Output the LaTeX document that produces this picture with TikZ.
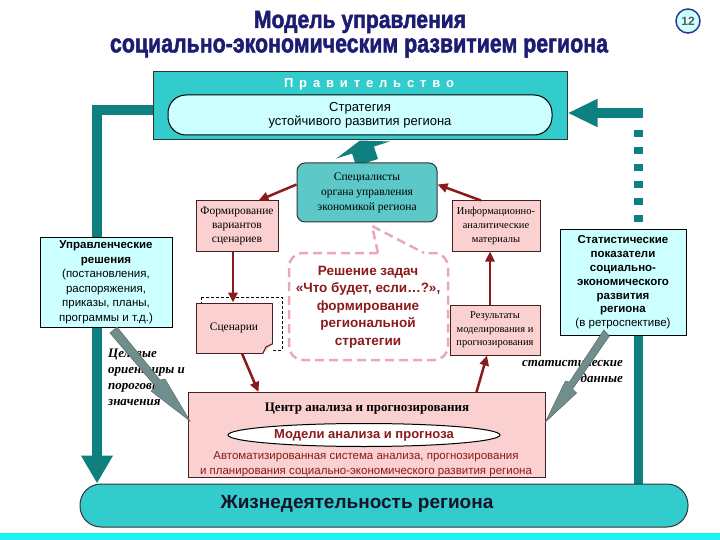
\documentclass[tikz,border=0pt]{standalone}
\usepackage{fontspec}
\setmainfont{Liberation Sans}
\newfontfamily\serifcyr{Liberation Serif}
\newfontfamily\titlefont{Liberation Sans}[BoldFeatures={FakeBold=2}]
\usetikzlibrary{arrows.meta,shapes.geometric}
\pgfdeclarelayer{bg}
\pgfsetlayers{bg,main}
\definecolor{tealdk}{HTML}{0F8080}
\definecolor{turq}{HTML}{33CCCC}
\definecolor{turqb}{HTML}{5CC8C8}
\definecolor{lcyan}{HTML}{CCFFFF}
\definecolor{pinkf}{HTML}{FBD0D0}
\definecolor{dred}{HTML}{8B1A1A}
\definecolor{navyt}{HTML}{1C1C72}
\definecolor{dpink}{HTML}{EBA8B8}
\definecolor{bandc}{HTML}{1CF2F2}
\definecolor{bolt}{HTML}{6F8E8E}
\definecolor{boxline}{HTML}{462020}
\tikzset{
 pinkbox/.style={draw=boxline, line width=1, fill=pinkf, align=center, inner sep=1, font=\serifcyr\fontsize{11.5}{14}\selectfont},
 cyanbox/.style={draw=black, line width=1, fill=lcyan, align=center, inner sep=1},
 redarrow/.style={draw=dred, line width=2.5, -{Triangle[length=10,width=9]}},
 tealline/.style={draw=tealdk, line width=10},
 boltshape/.style={fill=bolt, draw=black!60, line width=0.5},
 italabel/.style={font=\serifcyr\bfseries\itshape\fontsize{13}{16}\selectfont, inner sep=0},
}
\begin{document}
\begin{tikzpicture}[x=1pt,y=-1pt]
\useasboundingbox (0,0) rectangle (720,540);
\fill[bandc] (0,533) rectangle (720,540);

% title
\node[text=navyt, inner sep=0] (t1) at (360,22) {\resizebox{212pt}{17pt}{\titlefont\bfseries Модель управления}};
\node[text=navyt, inner sep=0] (t2) at (359,48) {\resizebox{498pt}{14pt}{\titlefont\bfseries социально-экономическим развитием региона}};
\node[circle, draw={rgb,255:red,40;green,60;blue,140}, line width=1.5, fill=lcyan, minimum size=24, inner sep=0, text=gray!70!black, font=\bfseries\fontsize{12}{12}\selectfont] (num) at (688,21) {12};

% government
\node[draw=black!80, line width=1, fill=turq, minimum width=414, minimum height=68, inner sep=0] (gov) at (360,106) {};
\node[text=white, inner sep=0, font=\bfseries\fontsize{13}{15}\selectfont\addfontfeature{LetterSpace=45}] (govt) at (369,84) {Правительство};
\node[draw=black, line width=1, fill=lcyan, rounded corners=18, minimum width=384, minimum height=40, inner sep=0, align=center, font=\fontsize{13}{14}\selectfont] (strat) at (360,115) {Стратегия\\устойчивого развития региона};

% specialists
\node[draw=black!80, line width=1, fill=turqb, rounded corners=8, minimum width=140, minimum height=59, inner sep=0, align=center, font=\serifcyr\fontsize{11.5}{15}\selectfont] (spec) at (367,192.5) {Специалисты\\органа управления\\экономикой региона};

% pink boxes
\node[pinkbox, minimum width=82, minimum height=50] (form) at (237,226) {Формирование\\вариантов\\сценариев};
\node[pinkbox, minimum width=88, minimum height=50, font=\serifcyr\fontsize{10.5}{14}\selectfont] (info) at (496,226) {Информационно-\\аналитические\\материалы};
\draw[line width=0.8, dash pattern=on 3 off 2] (201,297) rectangle (282,350);
\node[pinkbox, minimum width=76, minimum height=50] (scen) at (234,328) {Сценарии};
\fill[white] (263,354) -- (273,344) -- (273,354) -- cycle;
\draw[line width=1, boxline] (263,353) -- (266,347) -- (272,344);
\node[pinkbox, minimum width=90, minimum height=50, font=\serifcyr\fontsize{10.5}{13.5}\selectfont] (res) at (495,330) {Результаты\\моделирования и\\прогнозирования};

% side boxes
\node[cyanbox, minimum width=132, minimum height=90, font=\fontsize{11.5}{14.5}\selectfont] (dec) at (106,282) {\textbf{Управленческие}\\\textbf{решения}\\(постановления,\\распоряжения,\\приказы, планы,\\программы и т.д.)};
\node[cyanbox, minimum width=126, minimum height=105, font=\fontsize{11.5}{13.8}\selectfont] (stats) at (623,282.5) {\textbf{Статистические}\\\textbf{показатели}\\\textbf{социально-}\\\textbf{экономического}\\\textbf{развития}\\\textbf{региона}\\(в ретроспективе)};

% callout
\coordinate (ctip) at (372,226);
\draw[dpink, line width=2.5, dash pattern=on 9 off 5, rounded corners=14] (378,253) -- (289,253) -- (289,360) -- (448,360) -- (448,253) -- (424,253);
\draw[dpink, line width=2.5, dash pattern=on 9 off 5] (378,253) -- (ctip) -- (424,253);
\node[text=dred, align=center, font=\bfseries\fontsize{13.5}{17.5}\selectfont] (task) at (368,307) {Решение задач\\«Что будет, если…?»,\\формирование\\региональной\\стратегии};

% center
\node[pinkbox, minimum width=357, minimum height=85] (cent) at (366.5,435) {};
\node[inner sep=0, font=\serifcyr\bfseries\fontsize{13}{14}\selectfont] (centt) at (367,409) {Центр анализа и прогнозирования};
\node[ellipse, draw=black, line width=1, fill=white, minimum width=272, minimum height=23, inner sep=0, text=dred, font=\bfseries\fontsize{13}{14}\selectfont] (models) at (364,435) {Модели анализа и прогноза};
\node[text=dred, align=center, inner sep=0, font=\fontsize{11.5}{14.5}\selectfont] (asys) at (366,464) {Автоматизированная система анализа, прогнозирования\\и планирования социально-экономического развития региона};

% life
\node[draw=black!80, line width=1, fill=turq, rounded corners=21, minimum width=608, minimum height=43, inner sep=0] (life) at (384,505.5) {};
\node[inner sep=0, font=\bfseries\fontsize{19}{22}\selectfont, text={rgb,255:red,20;green,20;blue,40}] (lifet) at (357,504) {Жизнедеятельность региона};

% italic labels
\node[italabel, align=left, anchor=north west] (goals) at (108,349) {Целевые\\ориентиры и\\пороговые\\значения};
\node[italabel, align=right, anchor=north east] (sdata) at (623,360) {статистические\\данные};

% bolts
\draw[boltshape] (110,333) -- (117,327) -- (160,380) -- (165,379) -- (190,421) -- (151,391) -- (156,387) -- cycle;
\draw[boltshape] (609.4,336) -- (603.8,330) -- (569.4,382) -- (565.4,381) -- (545.4,422) -- (576.6,393) -- (572.6,389) -- cycle;

% red arrows
\draw[redarrow] ([yshift=8]spec.west) -- ([xshift=-20]form.north east);
\draw[redarrow] ([xshift=-15]info.north) -- ([yshift=8]spec.east);
\draw[redarrow] ([xshift=-4]form.south) -- ([xshift=-4]form.south |- scen.north);
\draw[redarrow] ([xshift=8]scen.south) -- ([xshift=-108]cent.north);
\draw[redarrow] ([xshift=110]cent.north) -- ([xshift=-8]res.south);
\draw[redarrow] ([xshift=-5]res.north) -- ([xshift=-5]res.north |- info.south);

% teal connectors (behind)
\begin{pgfonlayer}{bg}
\coordinate (lc) at (97,110);
\coordinate (rc) at (638,113);
\draw[tealline, -{Triangle[width=30,length=28]}] ([yshift=-4]gov.west) -- (lc) -- (lc |- life.north);
\draw[tealline, -{Triangle[width=26,length=30]}] ([xshift=5]rc) -- (rc -| gov.east);
\draw[tealdk, line width=9, dash pattern=on 7 off 10] ([yshift=-17]rc) -- ([yshift=-8]rc |- stats.north);
\draw[tealline, line width=9] (rc |- stats.south) -- (rc |- life.north);
\draw[tealdk, line width=23, -{Triangle[width=56,length=10]}] (spec.north) -- (gov.south);
\end{pgfonlayer}
\end{tikzpicture}
\end{document}
